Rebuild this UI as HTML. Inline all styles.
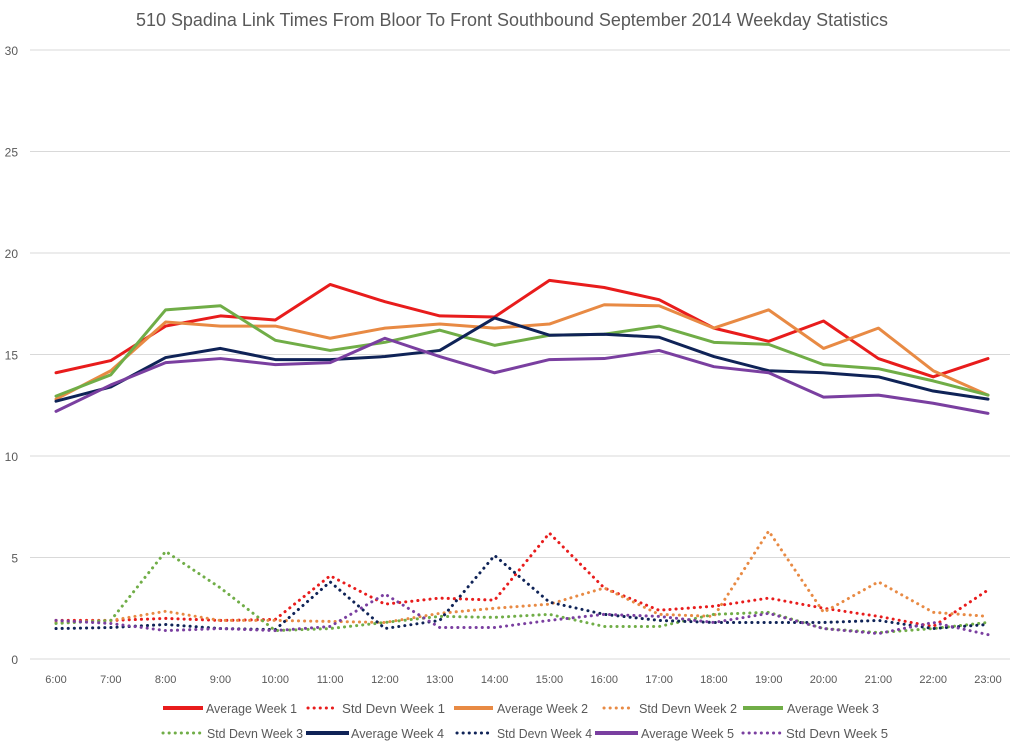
<!DOCTYPE html>
<html><head><meta charset="utf-8"><style>
body{margin:0;background:#fff;font-family:"Liberation Sans",sans-serif}
svg text{font-family:"Liberation Sans",sans-serif;fill:#595959}
</style></head><body>
<svg id="chart" width="1024" height="748" xmlns="http://www.w3.org/2000/svg">
<rect width="1024" height="748" fill="#fff"/>
<text x="512" y="26" text-anchor="middle" font-size="18" textLength="752" lengthAdjust="spacingAndGlyphs">510 Spadina Link Times From Bloor To Front Southbound September 2014 Weekday Statistics</text>
<g id="grid"></g><g id="series"></g><g id="legend"></g>
</svg>
<script>
const categories=["6:00","7:00","8:00","9:00","10:00","11:00","12:00","13:00","14:00","15:00","16:00","17:00","18:00","19:00","20:00","21:00","22:00","23:00"];
const yTicks=[0,5,10,15,20,25,30];
const avgW1=[14.1,14.7,16.4,16.9,16.7,18.45,17.6,16.9,16.85,18.65,18.3,17.7,16.3,15.65,16.65,14.8,13.9,14.8];
const avgW2=[12.8,14.2,16.6,16.4,16.4,15.8,16.3,16.5,16.3,16.5,17.45,17.4,16.3,17.2,15.3,16.3,14.2,13.0];
const avgW3=[12.95,14.0,17.2,17.4,15.7,15.2,15.6,16.2,15.45,15.95,16.0,16.4,15.6,15.5,14.5,14.3,13.7,13.0];
const avgW4=[12.7,13.4,14.85,15.3,14.75,14.75,14.9,15.2,16.8,15.95,16.0,15.85,14.9,14.2,14.1,13.9,13.2,12.8];
const avgW5=[12.2,13.5,14.6,14.8,14.5,14.6,15.8,14.9,14.1,14.75,14.8,15.2,14.4,14.1,12.9,13.0,12.6,12.1];
const sdW1=[1.9,1.9,2.0,1.9,1.95,4.1,2.7,3.0,2.9,6.2,3.5,2.4,2.6,3.0,2.5,2.1,1.6,3.4];
const sdW2=[1.8,1.9,2.35,1.9,1.9,1.85,1.8,2.25,2.5,2.7,3.5,2.2,2.1,6.3,2.3,3.8,2.3,2.1];
const sdW3=[1.75,1.9,5.3,3.5,1.4,1.5,1.8,2.1,2.05,2.2,1.6,1.6,2.2,2.3,1.5,1.3,1.5,1.8];
const sdW4=[1.5,1.55,1.7,1.5,1.45,3.8,1.5,1.9,5.1,2.8,2.2,1.9,1.8,1.8,1.8,1.9,1.5,1.7];
const sdW5=[1.9,1.75,1.4,1.5,1.4,1.6,3.2,1.55,1.55,1.9,2.2,2.1,1.8,2.25,1.5,1.25,1.8,1.2];
const NS="http://www.w3.org/2000/svg";
const x0=56,x1=988,yb=659,yt=50;
const xs=i=>x0+i*(x1-x0)/(categories.length-1);
const ys=v=>yb-v*(yb-yt)/30;
function mk(t,a,p){const e=document.createElementNS(NS,t);for(const k in a)e.setAttribute(k,a[k]);p.appendChild(e);return e;}
const grid=document.getElementById('grid');
yTicks.forEach(v=>{
 const l=mk('line',{x1:30,x2:1010,y1:ys(v),y2:ys(v),stroke:'#d9d9d9','stroke-width':1},grid);
 
 
 const t=mk('text',{x:18,y:ys(v)+5,'text-anchor':'end','font-size':12},grid);t.textContent=v;
 
 
});
categories.forEach((c,i)=>{
 const t=mk('text',{x:xs(i),y:683,'text-anchor':'middle','font-size':11},grid);t.textContent=c;
 
 
});
const series=[
 ["Average Week 1",avgW1,"#e81c1c",false],["Std Devn Week 1",sdW1,"#e81c1c",true],
 ["Average Week 2",avgW2,"#e88a44",false],["Std Devn Week 2",sdW2,"#e88a44",true],
 ["Average Week 3",avgW3,"#70ad47",false],["Std Devn Week 3",sdW3,"#70ad47",true],
 ["Average Week 4",avgW4,"#0f2357",false],["Std Devn Week 4",sdW4,"#0f2357",true],
 ["Average Week 5",avgW5,"#7a3fa0",false],["Std Devn Week 5",sdW5,"#7a3fa0",true]];
const sg=document.getElementById('series');
series.forEach(([n,d,c,dot])=>{
 const p=mk('polyline',{points:d.map((v,i)=>xs(i)+','+ys(v)).join(' '),fill:'none',stroke:c,'stroke-width':3,'stroke-linejoin':'round','stroke-linecap':'round'},sg);
 if(dot){p.setAttribute('stroke-dasharray','0.1 6');}
 
 
});
// legend layout: [lineStart, lineEnd, textStart, textEnd, y]
const lp=[[163,203,206,297,712],[308,338,342,445,712],[454,493,497,588,712],[604,632,639,737,712],[743,783,787,879,712],
          [163,201,207,303,737],[306,349,351,444,737],[457,490,497,592,737],[595,638,641,734,737],[743,780,786,888,737]];
const lg=document.getElementById('legend');
series.forEach(([n,d,c,dot],i)=>{
 const [a,b,tx,te,ly]=lp[i];
 const g=mk('g',{},lg);
 
 
 const l=mk('line',{x1:a,x2:b,y1:ly-4,y2:ly-4,stroke:c,'stroke-width':dot?3:4,'stroke-linecap':dot?'round':'butt'},g);
 if(dot)l.setAttribute('stroke-dasharray','0.1 6');
 const t=mk('text',{x:tx,y:ly+1,'font-size':13,textLength:te-tx,lengthAdjust:'spacingAndGlyphs'},g);t.textContent=n;
});
</script>
</body></html>
